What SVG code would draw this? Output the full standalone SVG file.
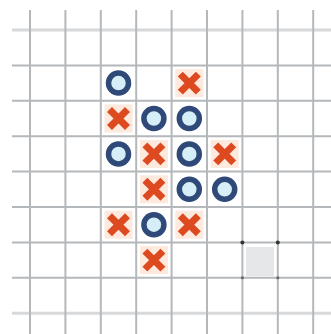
<svg xmlns="http://www.w3.org/2000/svg" xmlns:xlink="http://www.w3.org/1999/xlink" width="331" height="334" viewBox="0 0 331 334">
<style>
.grid line{stroke:#b4b8bb;stroke-width:2}
.grid line.lt{stroke:#d6d8da;stroke-width:3}
.o-ring{fill:#d6eef8;stroke:#2f4a78;stroke-width:5.5}
.x-bg{fill:#fde9dd}
.x-mark{stroke:#de4a1f;stroke-width:7;stroke-linecap:butt}
</style>
<defs>
<g id="O"><circle class="o-ring" cx="0" cy="0" r="10"/></g>
<g id="X"><rect class="x-bg" x="-14" y="-14" width="28" height="28"/><path class="x-mark" d="M-9,-9 L9,9 M9,-9 L-9,9"/></g>
</defs>
<rect width="331" height="334" fill="#ffffff"/>
<g id="grid" class="grid">
<line class="lt" x1="12" y1="30" x2="331" y2="30"/>
<line x1="12" y1="65.4" x2="331" y2="65.4"/>
<line x1="12" y1="100.8" x2="331" y2="100.8"/>
<line x1="12" y1="136.2" x2="331" y2="136.2"/>
<line x1="12" y1="171.6" x2="331" y2="171.6"/>
<line x1="12" y1="207" x2="331" y2="207"/>
<line x1="12" y1="242.4" x2="331" y2="242.4"/>
<line x1="12" y1="277.8" x2="331" y2="277.8"/>
<line class="lt" x1="12" y1="313.2" x2="331" y2="313.2"/>
<line x1="30" y1="10" x2="30" y2="334"/>
<line x1="65.4" y1="10" x2="65.4" y2="334"/>
<line x1="100.8" y1="10" x2="100.8" y2="334"/>
<line x1="136.2" y1="10" x2="136.2" y2="334"/>
<line x1="171.6" y1="10" x2="171.6" y2="334"/>
<line x1="207" y1="10" x2="207" y2="334"/>
<line x1="242.4" y1="10" x2="242.4" y2="334"/>
<line x1="277.8" y1="10" x2="277.8" y2="334"/>
<line x1="313.2" y1="10" x2="313.2" y2="334"/>
</g>
<g id="cursor">
<rect x="246" y="247" width="28" height="29" fill="#e6e7e8"/>
<circle cx="242.4" cy="242.4" r="2" fill="#333"/>
<circle cx="277.8" cy="242.4" r="2" fill="#333"/>
<circle cx="242.4" cy="277.8" r="1.5" fill="#666"/>
<circle cx="277.8" cy="277.8" r="1.5" fill="#666"/>
</g>
<g id="o1"><use xlink:href="#O" x="118.5" y="83.1"/></g>
<g id="x1"><use xlink:href="#X" x="189.3" y="83.1"/></g>
<g id="x2"><use xlink:href="#X" x="118.5" y="118.5"/></g>
<g id="o2"><use xlink:href="#O" x="153.9" y="118.5"/></g>
<g id="o3"><use xlink:href="#O" x="189.3" y="118.5"/></g>
<g id="o4"><use xlink:href="#O" x="118.5" y="153.9"/></g>
<g id="x3"><use xlink:href="#X" x="153.9" y="153.9"/></g>
<g id="o5"><use xlink:href="#O" x="189.3" y="153.9"/></g>
<g id="x4"><use xlink:href="#X" x="224.7" y="153.9"/></g>
<g id="x5"><use xlink:href="#X" x="153.9" y="189.3"/></g>
<g id="o6"><use xlink:href="#O" x="189.3" y="189.3"/></g>
<g id="o7"><use xlink:href="#O" x="224.7" y="189.3"/></g>
<g id="x6"><use xlink:href="#X" x="118.5" y="224.7"/></g>
<g id="o8"><use xlink:href="#O" x="153.9" y="224.7"/></g>
<g id="x7"><use xlink:href="#X" x="189.3" y="224.7"/></g>
<g id="x8"><use xlink:href="#X" x="153.9" y="260.1"/></g>
</svg>
